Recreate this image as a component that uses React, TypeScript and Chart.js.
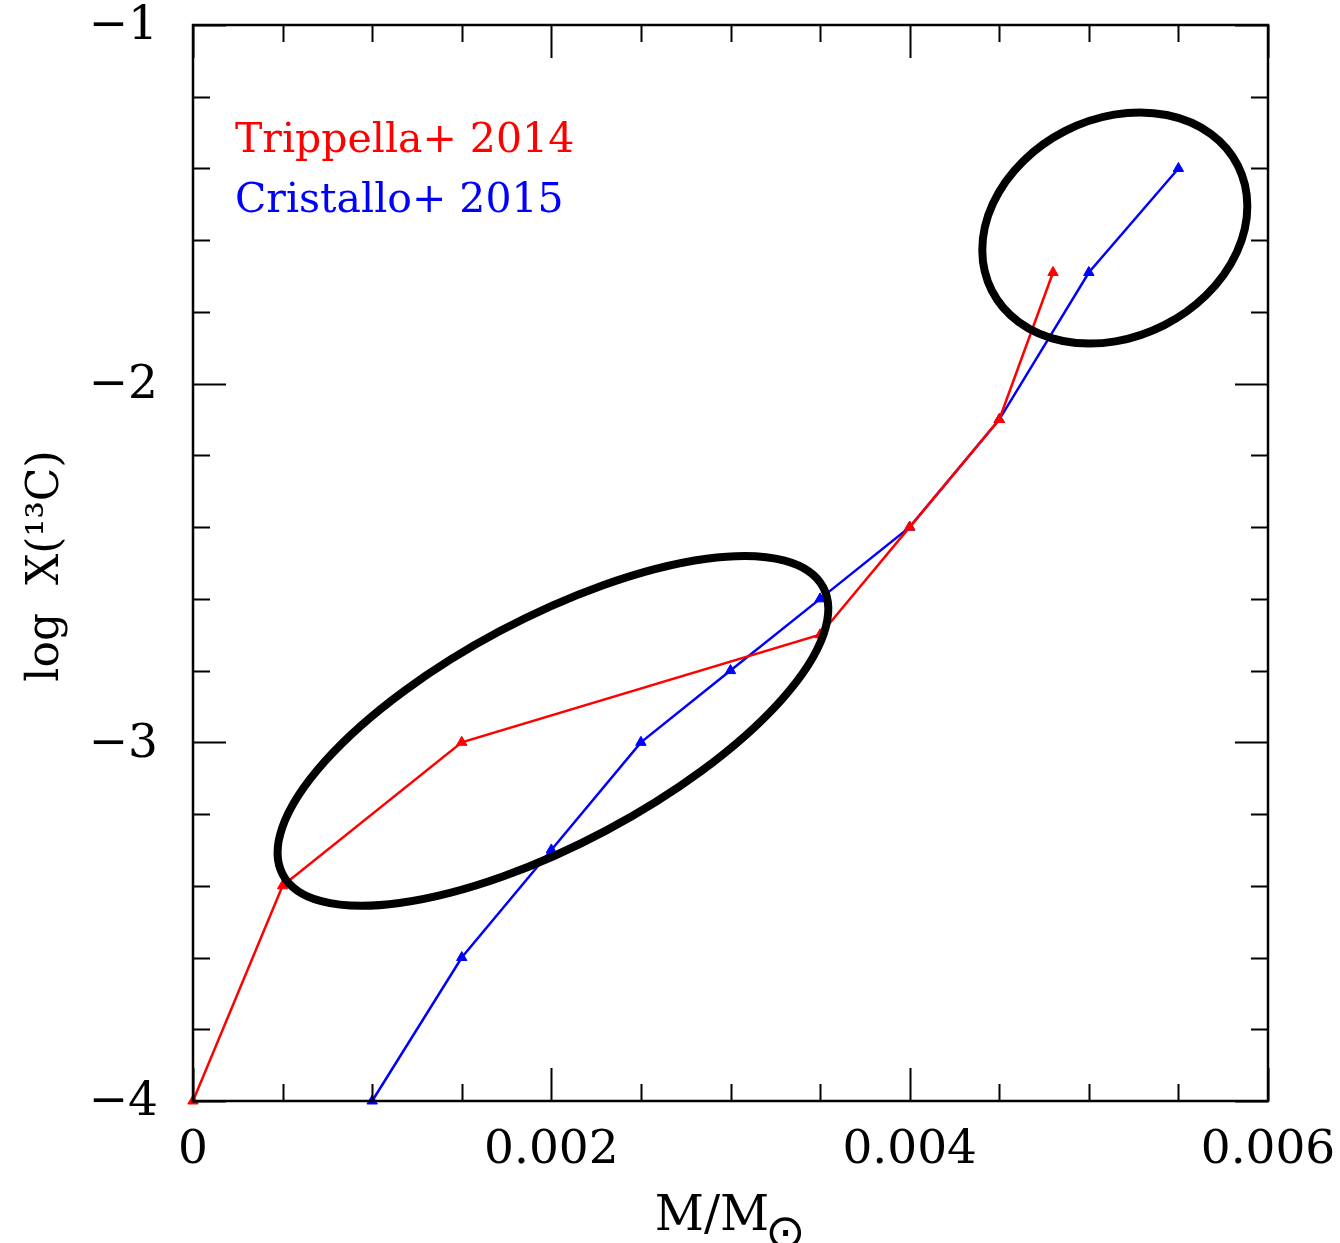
import React, { useEffect, useRef } from "react";
import { Chart, registerables } from "chart.js";

Chart.register(...registerables);

// ---- data ----
const trippellaMass = [0, 0.0005, 0.0015, 0.0035, 0.004, 0.0045, 0.0048];
const trippellaLogX = [-4, -3.4, -3.0, -2.7, -2.4, -2.1, -1.69];

const cristalloMass = [0.001, 0.0015, 0.002, 0.0025, 0.003, 0.0035, 0.004, 0.0045, 0.005, 0.0055];
const cristalloLogX = [-4, -3.6, -3.3, -3.0, -2.8, -2.6, -2.4, -2.1, -1.69, -1.4];

const xMajorTicks = [0, 0.002, 0.004, 0.006];
const xTickLabels = ["0", "0.002", "0.004", "0.006"];
const xMinorTicks = [0.0005, 0.001, 0.0015, 0.0025, 0.003, 0.0035, 0.0045, 0.005, 0.0055];

const yMajorTicks = [-1, -2, -3, -4];
const yTickLabels = ["\u22121", "\u22122", "\u22123", "\u22124"];
const yMinorTicks = [-1.2, -1.4, -1.6, -1.8, -2.2, -2.4, -2.6, -2.8, -3.2, -3.4, -3.6, -3.8];

const seriesLabels = ["Trippella+ 2014", "Cristallo+ 2015"];
const seriesColors = ["#ff0000", "#0000ff"];

// highlight ellipses: centre in data units
const ellipseCentersX = [0.005145, 0.002009];
const ellipseCentersY = [-1.566, -2.968];

const FONT = "'DejaVu Serif', serif";

const decorPlugin = {
  id: "decor",
  afterDatasetsDraw(chart: any) {
    const ctx = chart.ctx as CanvasRenderingContext2D;
    const xs = chart.scales.x;
    const ys = chart.scales.y;
    const { left, right, top, bottom } = chart.chartArea;

    // ellipses
    const radii = [
      [138, 109, -27],
      [306, 113, -28],
    ];
    ctx.save();
    ctx.strokeStyle = "#000";
    ctx.lineWidth = 8;
    ellipseCentersX.forEach((cx, i) => {
      const px = xs.getPixelForValue(cx);
      const py = ys.getPixelForValue(ellipseCentersY[i]);
      const [a, b, rot] = radii[i];
      ctx.beginPath();
      ctx.ellipse(px, py, a, b, (rot * Math.PI) / 180, 0, Math.PI * 2);
      ctx.stroke();
    });
    ctx.restore();

    // frame
    ctx.save();
    ctx.strokeStyle = "#000";
    ctx.lineWidth = 2.5;
    ctx.strokeRect(left, top, right - left, bottom - top);

    // ticks
    ctx.lineWidth = 2;
    const major = 33;
    const minor = 17;
    const drawX = (v: number, len: number) => {
      const p = Math.round(xs.getPixelForValue(v)) + 0.5;
      ctx.beginPath();
      ctx.moveTo(p, bottom);
      ctx.lineTo(p, bottom - len);
      ctx.moveTo(p, top);
      ctx.lineTo(p, top + len);
      ctx.stroke();
    };
    const drawY = (v: number, len: number) => {
      const p = Math.round(ys.getPixelForValue(v)) + 0.5;
      ctx.beginPath();
      ctx.moveTo(left, p);
      ctx.lineTo(left + len, p);
      ctx.moveTo(right, p);
      ctx.lineTo(right - len, p);
      ctx.stroke();
    };
    xMajorTicks.forEach((v) => drawX(v, major));
    xMinorTicks.forEach((v) => drawX(v, minor));
    yMajorTicks.forEach((v) => drawY(v, major));
    yMinorTicks.forEach((v) => drawY(v, minor));

    // tick labels
    ctx.fillStyle = "#000";
    ctx.font = `47px ${FONT}`;
    ctx.textAlign = "center";
    ctx.textBaseline = "alphabetic";
    xMajorTicks.forEach((v, i) => {
      ctx.fillText(xTickLabels[i], xs.getPixelForValue(v), bottom + 62);
    });
    ctx.textAlign = "right";
    ctx.textBaseline = "middle";
    yMajorTicks.forEach((v, i) => {
      ctx.fillText(yTickLabels[i], left - 35, ys.getPixelForValue(v) + 2);
    });

    // axis titles
    ctx.textAlign = "left";
    ctx.textBaseline = "alphabetic";
    ctx.font = `48px ${FONT}`;
    const xt = "M/M";
    const w = ctx.measureText(xt).width;
    const xStart = 718 - w / 2 - 6;
    ctx.fillText(xt, xStart, 1230);
    ctx.font = `48px 'DejaVu Sans', sans-serif`;
    ctx.textAlign = "center";
    ctx.textBaseline = "middle";
    ctx.fillText("\u2299", xStart + w + 16, 1236);

    ctx.save();
    ctx.translate(58, 566);
    ctx.rotate(-Math.PI / 2);
    ctx.textAlign = "center";
    ctx.textBaseline = "alphabetic";
    ctx.font = `44px ${FONT}`;
    ctx.fillText("log  X(\u00b9\u00b3C)", 0, 0);
    ctx.restore();

    // legend
    ctx.font = `41px ${FONT}`;
    ctx.textAlign = "left";
    ctx.textBaseline = "alphabetic";
    ctx.fillStyle = seriesColors[0];
    ctx.fillText(seriesLabels[0], 235, 152);
    ctx.fillStyle = seriesColors[1];
    ctx.fillText(seriesLabels[1], 235, 212);
    ctx.restore();
  },
};

export default function App() {
  const ref = useRef<HTMLCanvasElement | null>(null);
  useEffect(() => {
    if (!ref.current) return;
    const mk = (xsArr: number[], ysArr: number[]) => xsArr.map((x, i) => ({ x, y: ysArr[i] }));
    const chart = new Chart(ref.current, {
      type: "line",
      data: {
        datasets: [
          {
            label: seriesLabels[0],
            data: mk(trippellaMass, trippellaLogX),
            borderColor: seriesColors[0],
            backgroundColor: seriesColors[0],
            borderWidth: 2.5,
            pointStyle: "triangle",
            pointRadius: 6,
            pointBorderWidth: 1,
            tension: 0,
            clip: false,
          } as any,
          {
            label: seriesLabels[1],
            data: mk(cristalloMass, cristalloLogX),
            borderColor: seriesColors[1],
            backgroundColor: seriesColors[1],
            borderWidth: 2.5,
            pointStyle: "triangle",
            pointRadius: 6,
            pointBorderWidth: 1,
            tension: 0,
            clip: false,
          } as any,
        ],
      },
      options: {
        animation: false,
        responsive: false,
        layout: { padding: { left: 193, top: 25, right: 72, bottom: 142 } },
        plugins: { legend: { display: false }, tooltip: { enabled: false } },
        scales: {
          x: { type: "linear", min: 0, max: 0.006, display: false },
          y: { type: "linear", min: -4, max: -1, display: false },
        },
      },
      plugins: [decorPlugin],
    });
    return () => chart.destroy();
  }, []);
  return (
    <div style={{ position: "fixed", left: 0, top: 0, width: 1340, height: 1243, background: "#fff" }}>
      <canvas ref={ref} width={1340} height={1243} style={{ display: "block" }} />
    </div>
  );
}
